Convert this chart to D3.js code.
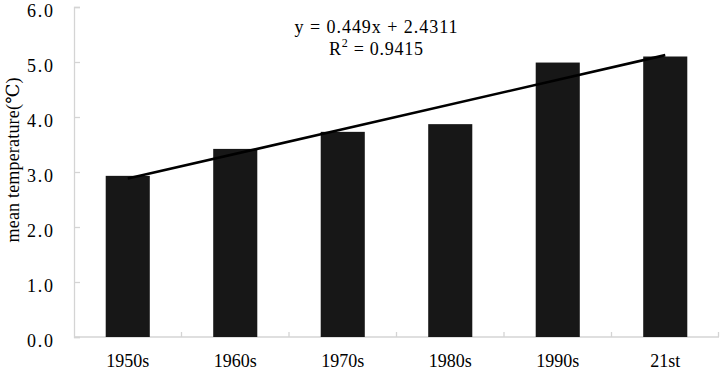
<!DOCTYPE html>
<html>
<head>
<meta charset="utf-8">
<script src="https://cdn.jsdelivr.net/npm/d3@7"></script>
<style>
  html, body { margin: 0; padding: 0; background: #fff; }
  svg { display: block; font-family: "Liberation Serif", "DejaVu Serif", serif; }
</style>
</head>
<body>
<div id="chart"></div>
<script>
// decades and mean temperature per decade
const decades = ["1950s", "1960s", "1970s", "1980s", "1990s", "21st"];
const meanTemp = [2.93, 3.42, 3.73, 3.87, 4.99, 5.10];
const yTicks = [0, 1, 2, 3, 4, 5, 6];
// linear trend as printed on the chart
const slope = 0.449;
const intercept = 2.4311;
const eqLines = ["y = 0.449x + 2.4311", "R2 = 0.9415"];

const width = 720, height = 372;
const margin = { top: 7, right: 1, bottom: 35, left: 74 };
const serif = "'Liberation Serif', 'DejaVu Serif', serif";

const svg = d3.select("#chart").append("svg")
    .attr("width", width)
    .attr("height", height);

const x = d3.scaleBand()
    .domain(decades)
    .range([margin.left, width - margin.right])
    .padding(0);

const y = d3.scaleLinear()
    .domain([0, 6])
    .range([height - margin.bottom, margin.top]);

const axisColor = "#d4d4d4";

// y axis, ticks pointing inward
svg.append("g")
    .attr("transform", `translate(${margin.left},0)`)
    .call(d3.axisLeft(y).tickValues(yTicks).tickFormat(d3.format(".1f")).tickSize(-6).tickPadding(21))
    .attr("font-family", serif)
    .attr("font-size", 18)
    .call(g => g.selectAll("line, path").attr("stroke", axisColor).attr("stroke-width", 1.3))
    .call(g => g.selectAll("text")
        .attr("fill", "#000")
        .attr("dy", "0.5em")
        .attr("textLength", 26).attr("lengthAdjust", "spacing"));

// x axis line with tick marks on category boundaries
const xAxis = svg.append("g");
xAxis.append("line")
    .attr("x1", margin.left).attr("x2", width - margin.right)
    .attr("y1", y(0)).attr("y2", y(0))
    .attr("stroke", axisColor).attr("stroke-width", 1.3);
xAxis.selectAll(".bound")
    .data(decades.slice(1).concat(["end"]))
    .enter().append("line")
    .attr("x1", d => d === "end" ? x.range()[1] - 0.5 : x(d))
    .attr("x2", d => d === "end" ? x.range()[1] - 0.5 : x(d))
    .attr("y1", y(0)).attr("y2", y(0) - 5)
    .attr("stroke", axisColor).attr("stroke-width", 1.3);

xAxis.selectAll(".lbl")
    .data(decades)
    .enter().append("text")
    .attr("x", d => x(d) + x.bandwidth() / 2)
    .attr("y", 367)
    .attr("text-anchor", "middle")
    .style("font-size", "18px")
    .text(d => d);

// bars
const barW = x.bandwidth() * 0.41;
svg.append("g")
    .selectAll("rect")
    .data(decades.map((d, i) => ({ d, v: meanTemp[i] })))
    .enter().append("rect")
    .attr("x", r => x(r.d) + x.bandwidth() / 2 - barW / 2)
    .attr("y", r => y(r.v))
    .attr("width", barW)
    .attr("height", r => y(0) - y(r.v))
    .attr("fill", "#171717");

// trend line from the regression equation
const trend = decades.map((d, i) => [x(d) + x.bandwidth() / 2, y(slope * (i + 1) + intercept)]);
svg.append("path")
    .datum([trend[0], trend[trend.length - 1]])
    .attr("d", d3.line())
    .attr("stroke", "#000")
    .attr("stroke-width", 2.6)
    .attr("fill", "none");

// equation text
const eq = svg.append("g").style("font-size", "18px");
eq.append("text")
    .attr("x", 376).attr("y", 33)
    .attr("text-anchor", "middle")
    .attr("textLength", 163).attr("lengthAdjust", "spacing")
    .text(eqLines[0]);
const r2 = eq.append("text")
    .attr("x", 376).attr("y", 55)
    .attr("text-anchor", "middle")
    .attr("textLength", 94).attr("lengthAdjust", "spacing");
r2.append("tspan").text("R");
r2.append("tspan").attr("dy", -8).style("font-size", "12px").text("2");
r2.append("tspan").attr("dy", 8).text(" = 0.9415");

// y axis title
svg.append("text")
    .attr("transform", "translate(19,160) rotate(-90)")
    .attr("text-anchor", "middle")
    .attr("textLength", 165).attr("lengthAdjust", "spacing")
    .style("font-size", "18px")
    .text("mean temperature(\u2103)");
</script>
</body>
</html>
